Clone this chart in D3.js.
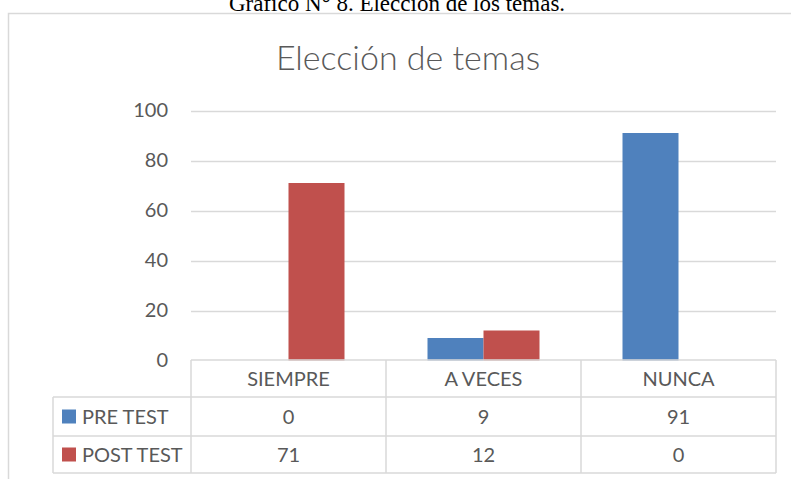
<!DOCTYPE html>
<html>
<head>
<meta charset="utf-8">
<script src="https://cdn.jsdelivr.net/npm/d3@7"></script>
<style>
  body { margin: 0; background: #fff; }
  svg { display: block; }
</style>
</head>
<body>
<svg id="chart" width="791" height="479"></svg>
<script>
const categories = ["SIEMPRE", "A VECES", "NUNCA"];
const seriesNames = ["PRE TEST", "POST TEST"];
const preTest = [0, 9, 91];
const postTest = [71, 12, 0];
const yTicks = [0, 20, 40, 60, 80, 100];
const colors = ["#4F81BD", "#C0504D"];

const font = "Lato, 'Open Sans', sans-serif";
const textColor = "#595959";
const lineColor = "#d9d9d9";

const svg = d3.select("#chart");

// page caption, cut off at the top like the scan
svg.append("text")
    .attr("x", 397)
    .attr("y", 11)
    .attr("text-anchor", "middle")
    .style("font-family", "'Liberation Serif', 'Times New Roman', serif")
    .style("font-size", "23px")
    .style("fill", "#000")
    .text("Gráfico N° 8. Elección de los temas.");

// chart frame
svg.append("rect")
    .attr("x", 8.5).attr("y", 13.5)
    .attr("width", 800).attr("height", 500)
    .attr("fill", "none")
    .attr("stroke", lineColor)
    .attr("stroke-width", 1.5);

svg.append("text")
    .attr("x", 408)
    .attr("y", 70)
    .attr("text-anchor", "middle")
    .style("font-family", font)
    .style("font-size", "34px")
    .style("font-weight", 300)
    .style("fill", textColor)
    .text("Elección de temas");

const plot = { left: 191, right: 776, top: 110.5, bottom: 360.5 };

const y = d3.scaleLinear().domain([0, 100]).range([plot.bottom, plot.top]);
const x0 = d3.scaleBand().domain(categories).range([plot.left, plot.right]).padding(0);
const x1 = d3.scaleBand().domain(seriesNames)
    .range([41.5, x0.bandwidth() - 41.5]).padding(0);

// grid lines
svg.append("g")
  .selectAll("line")
  .data(yTicks.filter(d => d > 0))
  .enter()
  .append("line")
    .attr("x1", plot.left).attr("x2", plot.right)
    .attr("y1", d => Math.round(y(d)) + 0.5)
    .attr("y2", d => Math.round(y(d)) + 0.5)
    .attr("stroke", lineColor)
    .attr("stroke-width", 1.5);

// y axis labels
const yAxis = d3.axisLeft(y).tickValues(yTicks).tickSize(0).tickPadding(23);
const yg = svg.append("g")
    .attr("transform", `translate(${plot.left},0)`)
    .call(yAxis);
yg.select(".domain").remove();
yg.selectAll("text")
    .style("font-family", font)
    .style("font-size", "20px")
    .style("fill", textColor);

// bars
const series = [preTest, postTest];
const barData = [];
categories.forEach((c, i) => {
    seriesNames.forEach((s, j) => {
        barData.push({ cat: c, name: s, value: series[j][i], color: colors[j] });
    });
});

svg.append("g")
  .selectAll("rect")
  .data(barData)
  .enter()
  .append("rect")
    .attr("x", d => x0(d.cat) + x1(d.name))
    .attr("y", d => y(d.value))
    .attr("width", x1.bandwidth())
    .attr("height", d => y(0) - y(d.value))
    .attr("fill", d => d.color);

// data table
const rowEdges = [360, 397, 436, 473];
const legendLeft = 53;
const tbl = svg.append("g")
    .attr("stroke", lineColor)
    .attr("stroke-width", 1.5)
    .attr("fill", "none");

// horizontal lines
tbl.append("line")
    .attr("x1", plot.left).attr("x2", plot.right)
    .attr("y1", rowEdges[0]).attr("y2", rowEdges[0]);
rowEdges.slice(1).forEach(ry => {
    tbl.append("line")
        .attr("x1", legendLeft).attr("x2", plot.right)
        .attr("y1", ry).attr("y2", ry);
});
// vertical lines
tbl.append("line")
    .attr("x1", legendLeft).attr("x2", legendLeft)
    .attr("y1", rowEdges[1]).attr("y2", rowEdges[3]);
[plot.left].concat(categories.map(c => x0(c) + x0.bandwidth())).forEach(vx => {
    tbl.append("line")
        .attr("x1", vx).attr("x2", vx)
        .attr("y1", rowEdges[0]).attr("y2", rowEdges[3]);
});

const cellText = (g, tx, ty, txt, anchor) => g.append("text")
    .attr("x", tx).attr("y", ty)
    .attr("dy", "0.35em")
    .attr("text-anchor", anchor || "middle")
    .style("font-family", font)
    .style("font-size", "20px")
    .style("fill", textColor)
    .text(txt);

const txt = svg.append("g");
categories.forEach(c => {
    cellText(txt, x0(c) + x0.bandwidth() / 2, (rowEdges[0] + rowEdges[1]) / 2, c);
});
series.forEach((vals, j) => {
    const cy = (rowEdges[j + 1] + rowEdges[j + 2]) / 2;
    txt.append("rect")
        .attr("x", 62).attr("y", cy - 7)
        .attr("width", 14).attr("height", 14)
        .attr("fill", colors[j]);
    cellText(txt, 82, cy, seriesNames[j], "start");
    categories.forEach((c, i) => {
        cellText(txt, x0(c) + x0.bandwidth() / 2, cy, vals[i]);
    });
});
</script>
</body>
</html>
